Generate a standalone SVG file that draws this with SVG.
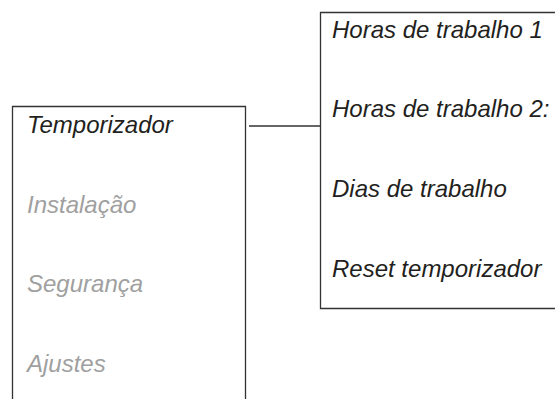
<svg xmlns="http://www.w3.org/2000/svg" width="555" height="399" viewBox="0 0 555 399">
<style>
.box{fill:none;stroke:#333;stroke-width:1.3}
.t{font-family:"Liberation Sans",Arial,sans-serif;font-style:italic;font-size:24px}
.on{fill:#231f20}
.off{fill:#a0a0a0}
</style>
<rect width="555" height="399" fill="#fff"/>
<g id="menu">
<path class="box" d="M12.5,410 V106.5 H245.5 V410"/>
<text class="t on" x="27" y="133">Temporizador</text>
<text class="t off" x="27" y="212.5">Instalação</text>
<text class="t off" x="27" y="292">Segurança</text>
<text class="t off" x="27" y="371.5">Ajustes</text>
</g>
<g id="submenu">
<path class="box" d="M560,12.5 H320.5 V308.5 H560"/>
<text class="t on" x="332" y="38">Horas de trabalho 1</text>
<text class="t on" x="332" y="117">Horas de trabalho 2:</text>
<text class="t on" x="332" y="197">Dias de trabalho</text>
<text class="t on" x="332" y="276.5">Reset temporizador</text>
</g>
<g id="connectors">
<line class="box" x1="249" y1="126" x2="320.5" y2="126"/>
</g>
</svg>
